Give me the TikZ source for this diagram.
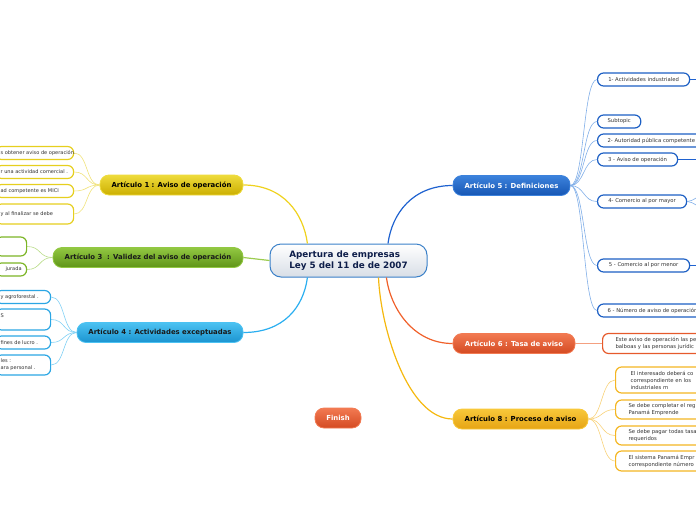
\documentclass[tikz,border=0pt]{standalone}
\usepackage{fontspec}
\setmainfont{DejaVu Sans}
\usetikzlibrary{calc}
\definecolor{navy}{HTML}{0E1E4A}
\definecolor{cborder}{HTML}{3A80C8}
\definecolor{cbot}{HTML}{D8DEE6}
\definecolor{yTop}{HTML}{EEDB3C}\definecolor{yBot}{HTML}{CCAF00}\definecolor{yLine}{HTML}{EFD21E}\definecolor{yLeaf}{HTML}{E6CF1E}\definecolor{yThin}{HTML}{F0E27A}
\definecolor{gTop}{HTML}{92C842}\definecolor{gBot}{HTML}{5F9418}\definecolor{gLine}{HTML}{9CCC50}\definecolor{gLeaf}{HTML}{7CB526}\definecolor{gThin}{HTML}{B8DC88}
\definecolor{cTop}{HTML}{4CC2F2}\definecolor{cBot}{HTML}{1B94D0}\definecolor{cLine}{HTML}{2AAEF0}\definecolor{cLeaf}{HTML}{2BA6E4}\definecolor{cThin}{HTML}{80D0F4}
\definecolor{bTop}{HTML}{3C82DC}\definecolor{bBot}{HTML}{1656B4}\definecolor{bLine}{HTML}{1F62D0}\definecolor{bLeaf}{HTML}{1C5FC4}\definecolor{bThin}{HTML}{80AEE8}
\definecolor{rTop}{HTML}{F27A52}\definecolor{rBot}{HTML}{D44A22}\definecolor{rLine}{HTML}{F0602A}\definecolor{rLeaf}{HTML}{E65A2C}\definecolor{rThin}{HTML}{F4A080}
\definecolor{oTop}{HTML}{F8C83A}\definecolor{oBot}{HTML}{E6A414}\definecolor{oLine}{HTML}{F5B80F}\definecolor{oLeaf}{HTML}{F4B622}\definecolor{oThin}{HTML}{F8D27A}
\definecolor{leaftext}{HTML}{333333}
\newcommand\lb[2]{\makebox[#1pt][l]{#2}}
\newcommand\rb[2]{\makebox[#1pt][r]{#2}}
\begin{document}
\begin{tikzpicture}[x=1pt,y=-1pt,
  mainbox/.style={rounded corners=9pt, minimum height=20pt, inner sep=2pt,
     font=\fontsize{6.9}{8}\selectfont\bfseries, line width=0.8pt},
  leaf/.style={draw, fill=white, rounded corners=6pt, line width=1.2pt, minimum height=13pt,
     inner ysep=1pt, align=left, text=leaftext, font=\fontsize{5.3}{7}\selectfont},
  leafL/.style={leaf, anchor=west, inner xsep=5pt, font=\fontsize{5.05}{7}\selectfont},
  leafR/.style={leaf, anchor=west, inner xsep=10pt},
  thin/.style={line width=0.6pt},
  thick/.style={line width=1.2pt}]
\useasboundingbox (0,0) rectangle (696,520);
\clip (0,0) rectangle (696,520);

% central node
\node[draw=cborder, line width=1pt, top color=white, bottom color=cbot, rounded corners=11pt,
      minimum width=157pt, minimum height=33pt, align=left, text=navy,
      font=\fontsize{8.8}{11}\selectfont\bfseries] (c) at (348.5,260.5)
      {Apertura de empresas\\Ley 5 del 11 de de 2007};

% main nodes
\node[mainbox, draw=yTop, top color=yTop, bottom color=yBot, text=black, minimum width=143pt] (a1) at (171.5,185) {Artículo 1 : Aviso de operación};
\node[mainbox, draw=gTop, top color=gTop, bottom color=gBot, text=black!90, minimum width=190pt] (a3) at (148,257.5) {Artículo 3\ \ : Validez del aviso de operación};
\node[mainbox, draw=cTop, top color=cTop, bottom color=cBot, text=black!90, minimum width=166pt] (a4) at (160,332.5) {Artículo 4 : Actividades exceptuadas};
\node[mainbox, draw=bTop, top color=bTop, bottom color=bBot, text=white, minimum width=117pt] (a5) at (511.5,185.5) {Artículo 5 : Definiciones};
\node[mainbox, draw=rTop, top color=rTop, bottom color=rBot, text=white, minimum width=122pt] (a6) at (514,343.5) {Artículo 6 : Tasa de aviso};
\node[mainbox, draw=oTop, top color=oTop, bottom color=oBot, text=black, minimum width=135pt] (a8) at (520.5,419) {Artículo 8 : Proceso de aviso};
\node[mainbox, draw=rTop, top color=rTop, bottom color=rBot, text=white, minimum width=46pt] (fin) at (338,418) {Finish};

% attachment points on the central node
\coordinate (cNW) at ($(c.north west)!0.24!(c.north east)$);
\coordinate (cSW) at ($(c.south west)!0.24!(c.south east)$);
\coordinate (cNE) at ($(c.north west)!0.75!(c.north east)$);
\coordinate (cSE) at ($(c.south west)!0.74!(c.south east)$);
\coordinate (cSE2) at ($(c.south west)!0.69!(c.south east)$);

% main connectors
\draw[thick, yLine] (a1.east) .. controls +(40,0) and +(-4,-30) .. (cNW);
\draw[thick, gLine] (a3.east) -- (c.west);
\draw[thick, cLine] (a4.east) .. controls +(40,0) and +(-4,30) .. (cSW);
\draw[thick, bLine] (a5.west) .. controls +(-40,0) and +(4,-30) .. (cNE);
\draw[thick, rLine] (a6.west) .. controls +(-40,0) and +(4,30) .. (cSE);
\draw[thick, oLine] (a8.west) .. controls +(-45,0) and +(2,50) .. (cSE2);

% Articulo 1 leaves
\node[leafL, draw=yLeaf] (y1) at (-5,153) {\lb{68}{s obtener aviso de operación.}};
\node[leafL, draw=yLeaf] (y2) at (-5,172) {\lb{68}{r una actividad comercial .}};
\node[leafL, draw=yLeaf] (y3) at (-5,191) {\lb{68}{ad competente es MICI}};
\node[leafL, draw=yLeaf, minimum height=20pt] (y4) at (-5,214) {\lb{68}{y al finalizar se debe}};
\foreach \n in {y1,y2,y3,y4}{\draw[thin, yThin] (a1.west) .. controls +(-14,0) and +(14,0) .. (\n.east);}

% Articulo 3 leaves
\node[leafL, draw=gLeaf, minimum height=19pt] (g1) at (-5,246.5) {\lb{21}{}};
\node[leafL, draw=gLeaf] (g2) at (-5,269.5) {\rb{21}{jurada}};
\foreach \n in {g1,g2}{\draw[thin, gThin] (a3.west) .. controls +(-14,0) and +(14,0) .. (\n.east);}

% Articulo 4 leaves
\node[leafL, draw=cLeaf] (h1) at (-5,297) {\lb{45}{y agroforestal .}};
\node[leafL, draw=cLeaf, minimum height=21pt] (h2) at (-5,319.5) {\lb{45}{S}\\\lb{45}{}};
\node[leafL, draw=cLeaf] (h3) at (-5,342.5) {\lb{45}{fines de lucro .}};
\node[leafL, draw=cLeaf, minimum height=20pt] (h4) at (-5,365) {\lb{45}{les :}\\\lb{45}{ara personal .}};
\foreach \n in {h1,h2,h3,h4}{\draw[thin, cThin] (a4.west) .. controls +(-14,0) and +(14,0) .. (\n.east);}

% Articulo 5 leaves
\node[leafR, draw=bLeaf, minimum width=92pt] (d1) at (597,79.5) {1- Actividades industrialed};
\node[leafR, draw=bLeaf, minimum width=43pt] (d2) at (597,121.5) {Subtopic};
\node[leafR, draw=bLeaf] (d3) at (597,140.5) {\lb{100}{2- Autoridad pública competente}};
\node[leafR, draw=bLeaf, minimum width=80pt] (d4) at (597,159.5) {3 - Aviso de operación};
\node[leafR, draw=bLeaf, minimum width=89pt] (d5) at (597,201.5) {4- Comercio al por mayor};
\node[leafR, draw=bLeaf, minimum width=92pt] (d6) at (597,265.5) {5 - Comercio al por menor};
\node[leafR, draw=bLeaf] (d7) at (597,310.5) {\lb{100}{6 - Número de aviso de operación}};
\foreach \n in {d1,d2,d3,d4,d5,d6,d7}{\draw[thin, bThin] (a5.east) .. controls +(14,0) and +(-14,0) .. (\n.west);}
\coordinate (x1) at (702,79.5);
\coordinate (x4) at (702,159.5);
\coordinate (x5a) at (702,195);
\coordinate (x5b) at (702,208);
\coordinate (x6) at (702,265.5);
\draw[thick, bLine] (d1.east) -- (x1);
\draw[thick, bLine] (d4.east) -- (x4);
\draw[thin, bThin] (d5.east) .. controls +(6,0) and +(-3,0) .. (x5a);
\draw[thin, bThin] (d5.east) .. controls +(6,0) and +(-3,0) .. (x5b);
\draw[thick, bLine] (d6.east) -- (x6);

% Articulo 6 leaf
\node[leafR, draw=rLeaf, inner xsep=13pt, minimum height=20pt] (e1) at (602,343.5)
  {\lb{100}{Este aviso de operación las pe}\\\lb{100}{balboas y las personas jurídic}};
\draw[thin, rThin] (a6.east) -- (e1.west);

% Articulo 8 leaves
\node[leafR, draw=oLeaf, inner xsep=15pt, minimum height=26pt] (f1) at (615,380)
  {\lb{100}{El interesado deberá co}\\\lb{100}{correspondiente en los}\\\lb{100}{industriales m}};
\node[leafR, draw=oLeaf, inner xsep=13pt, minimum height=19pt] (f2) at (615,409.5)
  {\lb{100}{Se debe completar el reg}\\\lb{100}{Panamá Emprende}};
\node[leafR, draw=oLeaf, inner xsep=13pt, minimum height=19pt] (f3) at (615,435.5)
  {\lb{100}{Se debe pagar todas tasa}\\\lb{100}{requeridos}};
\node[leafR, draw=oLeaf, inner xsep=13pt, minimum height=20pt] (f4) at (615,461)
  {\lb{100}{El sistema Panamá Empr}\\\lb{100}{correspondiente número}};
\foreach \n in {f1,f2,f3,f4}{\draw[thin, oThin] (a8.east) .. controls +(14,0) and +(-14,0) .. (\n.west);}
\end{tikzpicture}
\end{document}
